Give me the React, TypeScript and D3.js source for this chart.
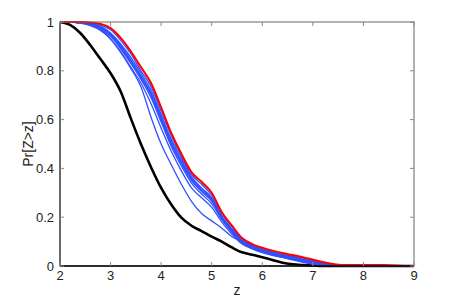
import React from "react";
import * as d3 from "d3";

// z grid shared by every curve
const zGrid = [
  2.0, 2.2, 2.4, 2.6, 2.8, 3.0, 3.2, 3.4, 3.6, 3.8, 4.0, 4.2, 4.4, 4.6, 4.8, 5.0,
  5.2, 5.4, 5.6, 5.8, 6.0, 6.2, 6.4, 6.6, 6.8, 7.0, 7.2, 7.4, 7.6, 8.0, 8.4, 8.8, 9.0,
];

const blackSeries = [
  1, 0.988, 0.955, 0.905, 0.848, 0.79, 0.715, 0.605, 0.5, 0.405, 0.32, 0.252, 0.198,
  0.165, 0.143, 0.12, 0.1, 0.076, 0.056, 0.046, 0.036, 0.025, 0.013, 0.007, 0.004,
  0.002, 0, 0, 0, 0, 0, 0, 0,
];

const redSeries = [
  1, 1, 1, 0.998, 0.992, 0.975, 0.935, 0.88, 0.815, 0.75, 0.65, 0.545, 0.46, 0.385,
  0.345, 0.3, 0.22, 0.165, 0.115, 0.09, 0.075, 0.063, 0.053, 0.045, 0.036, 0.026,
  0.016, 0.008, 0.004, 0.004, 0.004, 0, 0,
];

const blueSeries = [
  [1, 1, 0.997, 0.99, 0.97, 0.93, 0.875, 0.81, 0.735, 0.61, 0.5, 0.415, 0.335, 0.265,
    0.215, 0.185, 0.155, 0.12, 0.1, 0.083, 0.065, 0.05, 0.035, 0.025, 0.015, 0.008,
    0.004, 0.002, 0, 0, 0, 0, 0],
  [1, 1, 1, 0.997, 0.988, 0.968, 0.925, 0.87, 0.8, 0.735, 0.635, 0.535, 0.45, 0.375,
    0.335, 0.29, 0.215, 0.16, 0.11, 0.085, 0.07, 0.058, 0.048, 0.04, 0.032, 0.022,
    0.013, 0.006, 0.003, 0.002, 0, 0, 0],
  [1, 1, 0.998, 0.994, 0.982, 0.955, 0.91, 0.855, 0.79, 0.72, 0.62, 0.52, 0.44, 0.365,
    0.32, 0.28, 0.205, 0.152, 0.105, 0.08, 0.066, 0.055, 0.045, 0.037, 0.028, 0.019,
    0.011, 0.005, 0.002, 0, 0, 0, 0],
  [1, 1, 0.998, 0.992, 0.978, 0.95, 0.905, 0.845, 0.78, 0.71, 0.605, 0.51, 0.425,
    0.355, 0.31, 0.27, 0.2, 0.148, 0.1, 0.078, 0.062, 0.052, 0.042, 0.034, 0.025,
    0.016, 0.009, 0.004, 0.002, 0.001, 0, 0, 0],
  [1, 1, 0.997, 0.99, 0.975, 0.945, 0.895, 0.835, 0.775, 0.7, 0.6, 0.5, 0.42, 0.35,
    0.305, 0.265, 0.195, 0.142, 0.097, 0.075, 0.06, 0.049, 0.04, 0.031, 0.022, 0.014,
    0.007, 0.003, 0.001, 0, 0, 0, 0],
  [1, 1, 0.996, 0.988, 0.97, 0.94, 0.89, 0.83, 0.765, 0.69, 0.59, 0.49, 0.41, 0.34,
    0.295, 0.255, 0.19, 0.138, 0.094, 0.072, 0.057, 0.046, 0.037, 0.028, 0.02, 0.012,
    0.006, 0.003, 0.001, 0, 0, 0, 0],
  [1, 1, 0.995, 0.985, 0.965, 0.93, 0.88, 0.815, 0.75, 0.665, 0.565, 0.47, 0.39, 0.32,
    0.28, 0.24, 0.18, 0.13, 0.09, 0.07, 0.055, 0.044, 0.035, 0.027, 0.019, 0.011,
    0.006, 0.002, 0.001, 0, 0, 0, 0],
  [1, 1, 0.998, 0.993, 0.98, 0.952, 0.9, 0.84, 0.772, 0.705, 0.61, 0.505, 0.43, 0.36,
    0.315, 0.275, 0.2, 0.145, 0.1, 0.076, 0.061, 0.05, 0.041, 0.033, 0.024, 0.015,
    0.008, 0.004, 0.002, 0.001, 0, 0, 0],
];

const xTicks = [2, 3, 4, 5, 6, 7, 8, 9];
const yTicks = [0, 0.2, 0.4, 0.6, 0.8, 1];

const W = 458;
const H = 300;
const left = 60;
const right = 414;
const top = 22;
const bottom = 266;
const font = "'Liberation Sans Narrow', 'Liberation Sans', Arial, sans-serif";

export default function App() {
  const x = d3.scaleLinear().domain([2, 9]).range([left, right]);
  const y = d3.scaleLinear().domain([0, 1]).range([bottom, top]);

  const line = d3
    .line<number>()
    .x((_, i) => x(zGrid[i]))
    .y((d) => y(d))
    .curve(d3.curveMonotoneX);

  return (
    <svg
      width={W}
      height={H}
      style={{ position: "absolute", left: 0, top: 0, background: "#fff" }}
    >
      {/* curves */}
      <path d={line(blackSeries) ?? ""} fill="none" stroke="#000" strokeWidth={2.6} />
      {blueSeries.map((s, i) => (
        <path key={i} d={line(s) ?? ""} fill="none" stroke="#3050ff" strokeWidth={1.3} />
      ))}
      <path d={line(redSeries) ?? ""} fill="none" stroke="#ff0000" strokeWidth={2} />

      {/* box */}
      <rect
        x={left}
        y={top}
        width={right - left}
        height={bottom - top}
        fill="none"
        stroke="#666"
        strokeWidth={1}
      />
      <line x1={left} x2={right} y1={bottom} y2={bottom} stroke="#000" strokeWidth={1.4} />
      <line x1={left} x2={left} y1={top} y2={bottom} stroke="#222" strokeWidth={1} />

      {/* ticks */}
      {xTicks.map((t) => (
        <g key={t}>
          <line x1={x(t)} x2={x(t)} y1={bottom} y2={bottom - 4} stroke="#888" />
          <line x1={x(t)} x2={x(t)} y1={top} y2={top + 4} stroke="#888" />
          <text
            x={x(t)}
            y={bottom + 14}
            textAnchor="middle"
            fontSize={13}
            fontFamily={font}
            fill="#222"
          >
            {t}
          </text>
        </g>
      ))}
      {yTicks.map((t) => (
        <g key={t}>
          <line x1={left} x2={left + 4} y1={y(t)} y2={y(t)} stroke="#888" />
          <line x1={right} x2={right - 4} y1={y(t)} y2={y(t)} stroke="#888" />
          <text
            x={left - 6}
            y={y(t)}
            dy="0.35em"
            textAnchor="end"
            fontSize={13}
            fontFamily={font}
            fill="#222"
          >
            {t}
          </text>
        </g>
      ))}

      {/* axis labels */}
      <text
        x={(left + right) / 2}
        y={295}
        textAnchor="middle"
        fontSize={14}
        fontFamily={font}
        fill="#222"
      >
        z
      </text>
      <text
        transform={`translate(33, ${(top + bottom) / 2}) rotate(-90)`}
        textAnchor="middle"
        fontSize={14}
        fontFamily={font}
        fill="#222"
      >
        Pr[Z&gt;z]
      </text>
    </svg>
  );
}
